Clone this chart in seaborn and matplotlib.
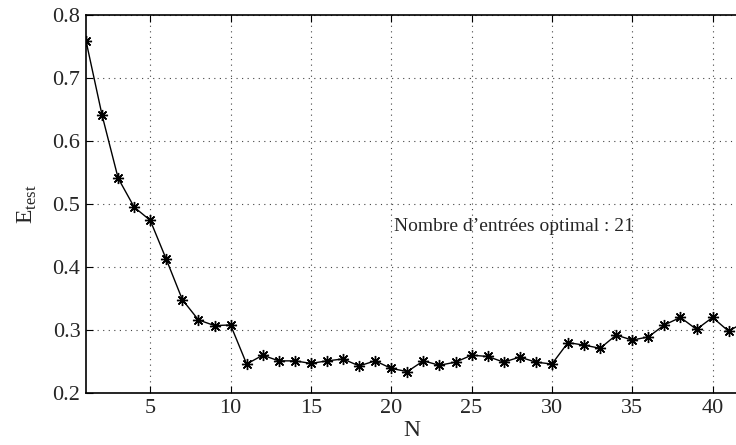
import matplotlib
matplotlib.use("Agg")
import matplotlib.pyplot as plt
import numpy as np
import pandas as pd
import seaborn as sns

# test error against number of inputs N
n_inputs = list(range(1, 43))
e_test = [
    0.759, 0.641, 0.541, 0.495, 0.474, 0.412, 0.348, 0.316, 0.307, 0.308,
    0.246, 0.260, 0.251, 0.251, 0.247, 0.251, 0.254, 0.243, 0.251, 0.239,
    0.234, 0.251, 0.244, 0.249, 0.260, 0.258, 0.249, 0.257, 0.249, 0.246,
    0.280, 0.276, 0.271, 0.292, 0.284, 0.289, 0.308, 0.320, 0.301, 0.320,
    0.298, 0.313,
]
x_ticks = [5, 10, 15, 20, 25, 30, 35, 40]
y_ticks = [0.2, 0.3, 0.4, 0.5, 0.6, 0.7, 0.8]
note = "Nombre d\u2019entrées optimal : 21"

df = pd.DataFrame({"N": n_inputs, "E_test": e_test})

sns.set_style("ticks")
plt.rcParams["font.family"] = ["Liberation Serif", "DejaVu Serif"]
plt.rcParams["mathtext.fontset"] = "custom"
plt.rcParams["mathtext.rm"] = "Liberation Serif"

fig = plt.figure(figsize=(7.36, 4.45), dpi=100)
ax = fig.add_axes([86 / 736, 1 - 393 / 445, 1 - 86 / 736 + 0.002, (393 - 15) / 445])

sns.lineplot(
    data=df, x="N", y="E_test", ax=ax,
    color="black", linewidth=1.0,
    marker=(8, 2, 0), markersize=8, markeredgewidth=1.0,
    markeredgecolor="black",
)

ax.set_xlim(1, 41.55)
ax.set_ylim(0.2, 0.8)
ax.set_xticks(x_ticks)
ax.set_yticks(y_ticks)
ax.set_yticklabels([f"{v:.1f}" for v in y_ticks])
ax.grid(True, linestyle=(0, (1, 4)), color="#444444", linewidth=0.8)
ax.tick_params(direction="in", length=5, labelsize=16, top=True, right=False,
               color="black", pad=4)
for s in ["left", "bottom", "top"]:
    ax.spines[s].set_linewidth(1.2)
    ax.spines[s].set_color("black")
ax.spines["right"].set_visible(False)

ax.set_xlabel("N", fontsize=17, labelpad=2)
ax.set_ylabel(r"E$_{\mathrm{test}}$", fontsize=17, labelpad=10)
ax.text(20.2, 0.465, note, fontsize=14, va="center", ha="left")

fig.savefig("out.png", dpi=100)
